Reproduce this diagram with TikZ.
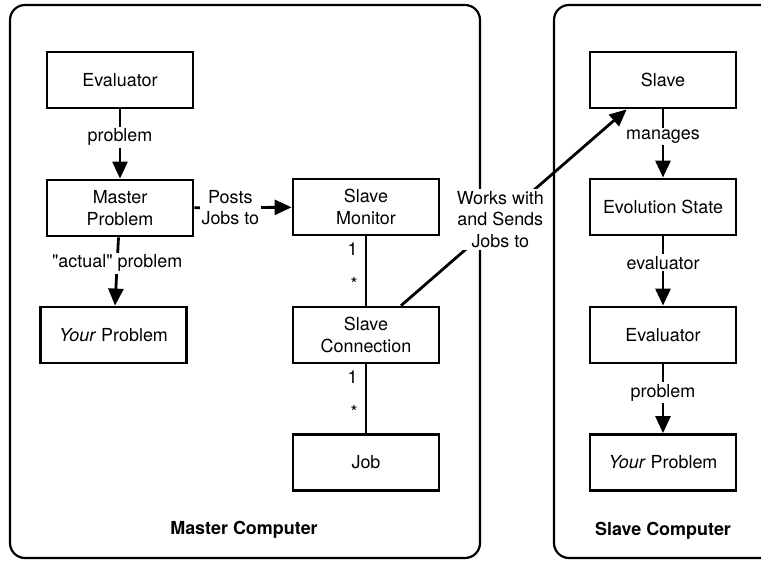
\documentclass[tikz,border=0pt]{standalone}
\usepackage{fontspec}
\setmainfont{TeX Gyre Heros}[Ligatures=TeXOff]
\usetikzlibrary{arrows.meta}

\begin{document}
\begin{tikzpicture}[x = 1bp, y = -1bp,
	font = \fontsize{18}{21.7}\selectfont,
	box/.style = {draw, line width = 2.8bp, minimum width = 146bp, minimum height = 56bp, inner sep = 0pt, align = center},
	lbl/.style = {fill = white, inner sep = 2bp, align = center},
	card/.style = {left = 7bp, inner sep = 0pt},
	lnk/.style = {line width = 2.8bp},
	arr/.style = {line width = 2.8bp, -{Triangle[length = 17bp, width = 15bp]}}]
			%\draw[help lines] (0,0) grid (761,562);
			\useasboundingbox (0, 0) rectangle (761, 562);
			\clip (0, 0) rectangle (761, 562);
			
			% the two computers
			\draw[line width = 2.2bp, rounded corners = 15bp] (10, 5) rectangle (480, 558);
			\draw[line width = 2.2bp, rounded corners = 15bp] (554, 5) rectangle (800, 558);
			\node[font = \fontsize{18}{21.7}\selectfont\bfseries] (mc) at (244, 530) {Master Computer};
			\node[font = \fontsize{18}{21.7}\selectfont\bfseries] (scomp) at (663, 531) {Slave Computer};
			
			% master side
			\node[box] (ev) at (120, 80) {Evaluator};
			\node[box] (mp) at (120, 208) {Master\\Problem};
			\node[box] (yp) at (113.5, 335) {\textit{Your} Problem};
			\node[box] (sm) at (366, 207) {Slave\\Monitor};
			\node[box] (sc) at (366, 335) {Slave\\Connection};
			\node[box] (job) at (366, 462.5) {Job};
			
			% slave side
			\node[box] (sl) at (663, 80) {Slave};
			\node[box] (es) at (663, 207) {Evolution State};
			\node[box] (rev) at (663, 335) {Evaluator};
			\node[box] (ryp) at (663, 462.5) {\textit{Your} Problem};
			
			\draw[arr] (ev) -- node[lbl, pos = 0.4] {problem} (mp);
			\draw[arr] (mp) -- node[lbl, pos = 0.37] {Posts\\Jobs to} (sm);
			\draw[arr] (mp) -- node[lbl, pos = 0.38] {"actual" problem} (yp);
			\draw[lnk] (sm) -- node[card, pos = 0.19] {1} node[card, pos = 0.69] {*} (sc);
			\draw[lnk] (sc) -- node[card, pos = 0.19] {1} node[card, pos = 0.69] {*} (job);
			\draw[arr] (sc.40) -- node[lbl, pos = 0.44] {Works with\\and Sends\\Jobs to} (sl.219);
			
			\draw[arr] (sl) -- node[lbl, pos = 0.4] {manages} (es);
			\draw[arr] (es) -- node[lbl, pos = 0.38] {evaluator} (rev);
			\draw[arr] (rev) -- node[lbl, pos = 0.41] {problem} (ryp);
			
\end{tikzpicture}
\end{document}
